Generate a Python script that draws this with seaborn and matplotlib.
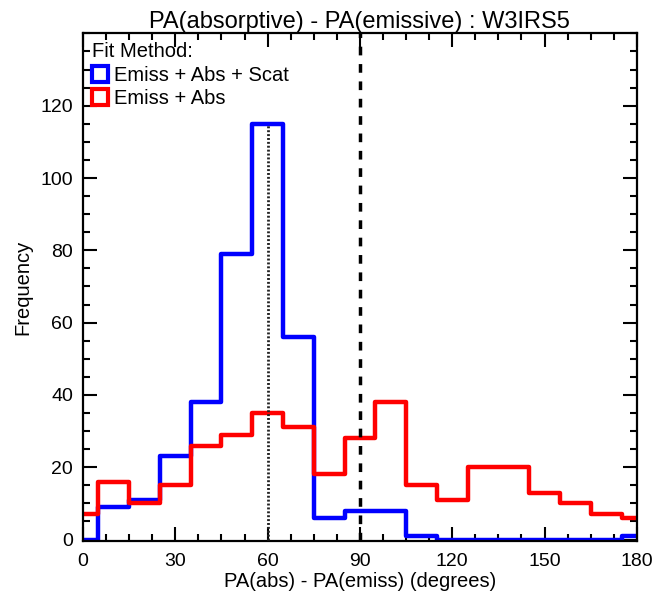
import numpy as np
import pandas as pd
import matplotlib
matplotlib.use("Agg")
import matplotlib.pyplot as plt
import seaborn as sns
from matplotlib.lines import Line2D
from matplotlib.ticker import MultipleLocator

sns.set_style("ticks")
plt.rcParams['font.family'] = ['Liberation Sans', 'DejaVu Sans']
plt.rcParams['text.color'] = 'black'
plt.rcParams['axes.labelcolor'] = 'black'

# Data
bin_edges = [0, 5, 15, 25, 35, 45, 55, 65, 75, 85, 95, 105, 115, 125, 135, 145, 155, 165, 175, 180]
counts_scat = [0, 9, 11, 23, 38, 79, 115, 56, 6, 8, 8, 1, 0, 0, 0, 0, 0, 0, 1]
counts_abs = [7, 16, 10, 15, 26, 29, 35, 31, 18, 28, 38, 15, 11, 20, 20, 13, 10, 7, 6]
labels = ["Emiss + Abs + Scat", "Emiss + Abs"]
colors = ["#0000ff", "#ff0000"]
peak_line_x = 60
ref_line_x = 90

centers = [(a + b) / 2 for a, b in zip(bin_edges[:-1], bin_edges[1:])]
df = pd.DataFrame({
    "x": centers * 2,
    "w": counts_scat + counts_abs,
    "method": [labels[0]] * len(centers) + [labels[1]] * len(centers),
})

fig = plt.figure(figsize=(6.69, 5.93), dpi=100)
ax = fig.add_axes([0.124, 0.0877, 0.828, 0.856])

for lab, col in zip(labels, colors):
    sub = df[df["method"] == lab]
    sns.histplot(data=sub, x="x", weights="w", bins=bin_edges, element="step",
                 fill=False, color=col, linewidth=3.2, ax=ax)

ax.vlines(peak_line_x, 0, max(counts_scat), color="#222222",
          linestyle=(0, (0.7, 0.7)), linewidth=2.0, zorder=4)
ax.axvline(ref_line_x, color="black", linestyle=(0, (2.5, 2.5)), linewidth=2.5,
           zorder=4)

ax.set_xlim(0, 180)
ax.set_ylim(-0.4, 140)
ax.xaxis.set_major_locator(MultipleLocator(30))
ax.xaxis.set_minor_locator(MultipleLocator(7.5))
ax.yaxis.set_minor_locator(MultipleLocator(5))
ax.set_yticks([0, 20, 40, 60, 80, 100, 120])
ax.tick_params(which="both", direction="in", top=True, right=True, width=1.5,
               labelsize=14, colors="black")
ax.tick_params(which="major", length=10)
ax.tick_params(which="minor", length=5)
ax.tick_params(axis="x", which="major", pad=9)
ax.tick_params(axis="y", which="major", pad=7)
for s in ax.spines.values():
    s.set_linewidth(1.6)
    s.set_color("black")

ax.set_xlabel("PA(abs) - PA(emiss) (degrees)", fontsize=14.5, labelpad=1)
ax.set_ylabel("Frequency", fontsize=14.5, labelpad=6)
ax.set_title("PA(absorptive) - PA(emissive) : W3IRS5", fontsize=17, pad=3)

handles = [Line2D([], [], linestyle="none", marker="s", markersize=11,
                  markerfacecolor="white", markeredgecolor=c, markeredgewidth=3)
           for c in colors]
leg = ax.legend(handles, labels, title="Fit Method:", loc="upper left",
                frameon=False, fontsize=14.5, title_fontsize=14.5,
                handlelength=0.8, handletextpad=0.3, borderaxespad=0.25,
                labelspacing=0.22, borderpad=0.2)
leg._legend_box.align = "left"

fig.savefig("out.png", dpi=100)
